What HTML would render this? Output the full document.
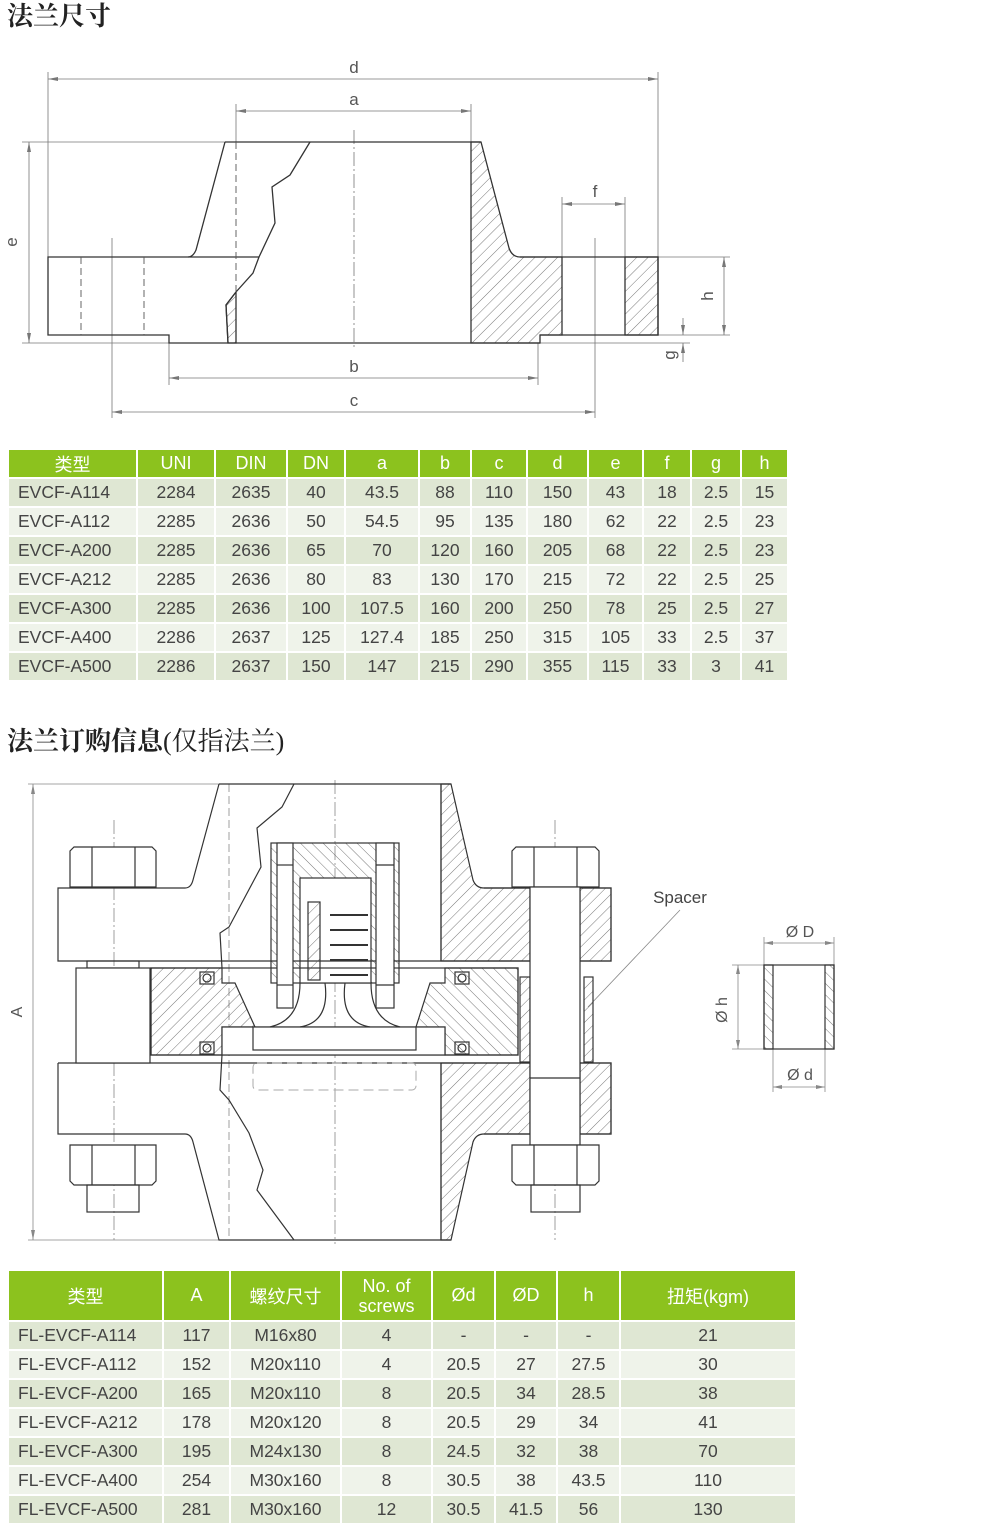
<!DOCTYPE html>
<html><head><meta charset="utf-8">
<style>
body{margin:0;width:1000px;height:1533px;background:#fff;position:relative;overflow:hidden;font-family:"Liberation Sans","Noto Sans CJK SC",sans-serif}
.t{position:absolute;font-family:"Liberation Serif","Noto Serif CJK SC",serif;font-size:26px;color:#222;left:7px;line-height:30px}
table{position:absolute;border-collapse:collapse;table-layout:fixed;left:7px}
td,th{border:2px solid #fff;padding:0;text-align:center;color:#444;font-size:17.5px;font-weight:normal;white-space:nowrap;overflow:hidden}
th{background:#8cc21e;color:#fff;font-size:18px}
tr.a td{background:#dfe7d3}
tr.b td{background:#eff3ea}
td.l{text-align:left;padding-left:9px}
svg{position:absolute;left:0;top:0}
</style></head><body>
<div class="t" style="top:2px;font-weight:bold">法兰尺寸</div>
<div class="t" style="top:727px"><b>法兰订购信息</b>(仅指法兰)</div>

<svg width="1000" height="1533" viewBox="0 0 1000 1533">
<defs>
<pattern id="h" patternUnits="userSpaceOnUse" width="8" height="8" patternTransform="rotate(45)">
<line x1="0" y1="0" x2="0" y2="8" stroke="#555" stroke-width="0.8"/></pattern>
<pattern id="h2" patternUnits="userSpaceOnUse" width="8" height="8" patternTransform="rotate(-45)">
<line x1="0" y1="0" x2="0" y2="8" stroke="#555" stroke-width="0.8"/></pattern>
</defs>
<g fill="none" stroke="#777" stroke-width="0.8">
<!-- drawing 1 dims -->
<line x1="48" y1="72" x2="48" y2="335"/><line x1="658" y1="72" x2="658" y2="257"/>
<line x1="48" y1="79" x2="658" y2="79"/>
<line x1="236" y1="104" x2="236" y2="142"/><line x1="471" y1="104" x2="471" y2="142"/>
<line x1="236" y1="111" x2="471" y2="111"/>
<line x1="22" y1="142" x2="225" y2="142"/><line x1="22" y1="343" x2="228" y2="343"/>
<line x1="29" y1="142" x2="29" y2="343"/>
<line x1="562" y1="197" x2="562" y2="257"/><line x1="625" y1="197" x2="625" y2="257"/>
<line x1="562" y1="204" x2="625" y2="204"/>
<line x1="658" y1="257" x2="730" y2="257"/><line x1="658" y1="335" x2="730" y2="335"/><line x1="540" y1="343" x2="690" y2="343"/>
<line x1="724" y1="257" x2="724" y2="335"/>
<line x1="683" y1="318" x2="683" y2="335"/><line x1="683" y1="343" x2="683" y2="362"/>
<line x1="169" y1="343" x2="169" y2="385"/><line x1="538" y1="343" x2="538" y2="385"/>
<line x1="169" y1="378" x2="538" y2="378"/>
<line x1="112" y1="238" x2="112" y2="418"/><line x1="595" y1="238" x2="595" y2="418"/>
<line x1="112" y1="412" x2="595" y2="412"/>
<line x1="354" y1="130" x2="354" y2="348" stroke-dasharray="14 3 2 3"/>
</g>
<g fill="#777" stroke="none">
<path d="M48,79 l10,-2 v4z M658,79 l-10,-2 v4z M236,111 l10,-2 v4z M471,111 l-10,-2 v4z M29,142 l-2,10 h4z M29,343 l-2,-10 h4z M562,204 l10,-2 v4z M625,204 l-10,-2 v4z M724,257 l-2,10 h4z M724,335 l-2,-10 h4z M683,335 l-2,-10 h4z M683,343 l-2,10 h4z M169,378 l10,-2 v4z M538,378 l-10,-2 v4z M112,412 l10,-2 v4z M595,412 l-10,-2 v4z"/>
</g>
<g font-family="Liberation Sans,sans-serif" font-size="17" fill="#555" text-anchor="middle">
<text x="354" y="73">d</text><text x="354" y="105">a</text><text x="595" y="197">f</text>
<text x="354" y="372">b</text><text x="354" y="406">c</text>
<text x="17" y="242" transform="rotate(-90 17 242)">e</text>
<text x="713" y="296" transform="rotate(-90 713 296)">h</text>
<text x="675" y="355" transform="rotate(-90 675 355)">g</text>
</g>
<g stroke="#333" stroke-width="1.3" fill="none">
<path d="M471,142 L481,142 L509,248 Q512,257 520,257 L562,257 L562,335 L540,335 L540,343 L471,343 Z" fill="url(#h)"/>
<rect x="625" y="257" width="33" height="78" fill="url(#h)"/>
<path d="M226,305 L236,292 L236,343 L228,343 Z" fill="url(#h)"/>
<path d="M225,142 L481,142"/>
<path d="M225,142 L196,250 Q193,257 188,257 L48,257 L48,335 L169,335 L169,343 L540,343"/>
<path d="M188,257 L259,257"/>
<path d="M310,142 L290,175 L272,187 L275,223 L259,257 L253,273 L236,292 L226,305 L228,343"/>
<path d="M520,257 L658,257 L658,335 L540,335"/>
</g>
<g stroke="#555" stroke-width="0.9" stroke-dasharray="7 4" fill="none">
<line x1="236" y1="142" x2="236" y2="292"/><line x1="81" y1="257" x2="81" y2="335"/><line x1="144" y1="257" x2="144" y2="335"/>
</g>

<!-- drawing 2 -->
<g fill="none" stroke="#888" stroke-width="0.8">
<line x1="28" y1="784" x2="220" y2="784"/><line x1="28" y1="1240" x2="220" y2="1240"/>
<line x1="33" y1="784" x2="33" y2="1240"/>
<line x1="335" y1="780" x2="335" y2="1244" stroke-dasharray="14 3 2 3"/>
<line x1="114" y1="820" x2="114" y2="1240" stroke-dasharray="14 3 2 3"/>
<line x1="555" y1="820" x2="555" y2="1240" stroke-dasharray="14 3 2 3"/>
<line x1="229" y1="784" x2="229" y2="1240" stroke-dasharray="8 4"/>
<line x1="588" y1="1007" x2="680" y2="910"/>
<!-- spacer dims -->
<line x1="764" y1="937" x2="764" y2="965"/><line x1="834" y1="937" x2="834" y2="965"/><line x1="764" y1="943" x2="834" y2="943"/>
<line x1="732" y1="965" x2="764" y2="965"/><line x1="732" y1="1049" x2="764" y2="1049"/><line x1="738" y1="965" x2="738" y2="1049"/>
<line x1="773" y1="1049" x2="773" y2="1092"/><line x1="825" y1="1049" x2="825" y2="1092"/><line x1="773" y1="1087" x2="825" y2="1087"/>
</g>
<g fill="#888"><path d="M33,784 l-2,10 h4z M33,1240 l-2,-10 h4z M764,943 l9,-2 v4z M834,943 l-9,-2 v4z M738,965 l-2,9 h4z M738,1049 l-2,-9 h4z M773,1087 l9,-2 v4z M825,1087 l-9,-2 v4z"/></g>
<g font-family="Liberation Sans,sans-serif" font-size="16" fill="#555" text-anchor="middle">
<text x="22" y="1012" transform="rotate(-90 22 1012)">A</text>
<text x="680" y="903" font-size="17" fill="#444">Spacer</text>
<text x="800" y="937">Ø D</text><text x="800" y="1080">Ø d</text>
<text x="727" y="1010" transform="rotate(-90 727 1010)">Ø h</text>
</g>
<g stroke="#333" stroke-width="1.2" fill="none">
<!-- hatched regions -->
<path d="M441,784 L451,784 L473,880 Q476,888 484,888 L530,888 L530,961 L441,961 Z" fill="url(#h)"/>
<rect x="580" y="888" width="31" height="73" fill="url(#h)"/>
<path d="M441,1063 L530,1063 L530,1134 L484,1134 Q476,1134 473,1142 L451,1240 L441,1240 Z" fill="url(#h)"/>
<rect x="580" y="1063" width="31" height="71" fill="url(#h)"/>
<path d="M151,968 L222,968 L222,983 L235,983 L255,1027 L222,1027 L222,1055 L151,1055 Z" fill="url(#h)"/>
<path d="M445,968 L518,968 L518,1055 L445,1055 L445,1027 L416,1027 L430,983 L445,983 Z" fill="url(#h2)"/>
<rect x="271" y="843" width="128" height="140" fill="url(#h2)"/>
<rect x="300" y="878" width="71" height="105" fill="#fff"/>
<rect x="520" y="977" width="10" height="85" fill="url(#h)"/>
<rect x="584" y="977" width="9" height="85" fill="url(#h)"/>
<rect x="764" y="965" width="70" height="84" fill="#fff"/>
<rect x="764" y="965" width="9" height="84" fill="url(#h2)"/>
<rect x="825" y="965" width="9" height="84" fill="url(#h2)"/>
<!-- flanges -->
<path d="M219,784 L451,784"/>
<path d="M219,784 L193,880 Q191,888 185,888 L58,888 L58,961 L611,961 L611,888 L484,888"/>
<path d="M58,1063 L611,1063 L611,1134 L484,1134"/>
<path d="M58,1063 L58,1134 L185,1134 Q191,1134 193,1142 L219,1240 L451,1240"/>
<line x1="441" y1="784" x2="441" y2="961"/><line x1="441" y1="1063" x2="441" y2="1240"/>
<path d="M294,784 L282,807 L257,828 L261,867 L245,897 L229,927 L220,933 L222,968"/>
<path d="M222,1055 L220,1090 L229,1100 L249,1133 L263,1170 L257,1190 L294,1240"/>
<rect x="151" y="968" width="367" height="87"/>
<rect x="222" y="1027" width="223" height="28" fill="#fff"/>
<rect x="253" y="1027" width="163" height="23" fill="#fff"/>
<path d="M300,983 Q300,1020 270,1027 M371,983 Q371,1020 400,1027 M325,983 Q330,1022 300,1027 M345,983 Q340,1022 370,1027"/>
<rect x="277" y="843" width="16" height="165" fill="#fff"/>
<rect x="376" y="843" width="18" height="165" fill="#fff"/>
<line x1="277" y1="865" x2="293" y2="865"/><line x1="376" y1="865" x2="394" y2="865"/>
<line x1="277" y1="985" x2="293" y2="985"/><line x1="376" y1="985" x2="394" y2="985"/>
<rect x="308" y="902" width="12" height="78" fill="url(#h)"/>
<path d="M330,915 H368 M330,930 H368 M330,945 H368 M330,960 H368 M330,975 H368" stroke-width="2"/>
<!-- o-rings -->
<rect x="200" y="972" width="14" height="12"/><circle cx="207" cy="978" r="4"/>
<rect x="200" y="1042" width="14" height="12"/><circle cx="207" cy="1048" r="4"/>
<rect x="455" y="972" width="14" height="12"/><circle cx="462" cy="978" r="4"/>
<rect x="455" y="1042" width="14" height="12"/><circle cx="462" cy="1048" r="4"/>
<!-- left bolt -->
<path d="M74,847 H152 L156,851 V887 H70 V851 Z" fill="#fff"/><line x1="92" y1="847" x2="92" y2="887"/><line x1="135" y1="847" x2="135" y2="887"/>
<rect x="87" y="961" width="52" height="7"/><rect x="76" y="968" width="74" height="95" fill="#fff"/>
<path d="M70,1145 H156 V1181 L152,1185 H74 L70,1181 Z" fill="#fff"/><line x1="92" y1="1145" x2="92" y2="1185"/><line x1="135" y1="1145" x2="135" y2="1185"/>
<rect x="87" y="1185" width="52" height="27"/>
<!-- right bolt -->
<path d="M516,847 H595 L599,851 V887 H512 V851 Z" fill="#fff"/><line x1="534" y1="847" x2="534" y2="887"/><line x1="577" y1="847" x2="577" y2="887"/>
<rect x="530" y="887" width="50" height="258" fill="#fff"/><line x1="530" y1="1078" x2="580" y2="1078"/>
<path d="M512,1145 H599 V1181 L595,1185 H516 L512,1181 Z" fill="#fff"/><line x1="534" y1="1145" x2="534" y2="1185"/><line x1="577" y1="1145" x2="577" y2="1185"/>
<rect x="531" y="1185" width="49" height="27"/>
</g>
<rect x="253" y="1063" width="163" height="27" rx="4" fill="none" stroke="#aaa" stroke-dasharray="10 5"/>
</svg>

<table style="top:448px;width:780px">
<colgroup><col style="width:129px"><col style="width:78px"><col style="width:72px"><col style="width:58px"><col style="width:74px"><col style="width:52px"><col style="width:56px"><col style="width:61px"><col style="width:55px"><col style="width:48px"><col style="width:50px"><col style="width:47px"></colgroup>
<tr style="height:29px"><th>类型</th><th>UNI</th><th>DIN</th><th>DN</th><th>a</th><th>b</th><th>c</th><th>d</th><th>e</th><th>f</th><th>g</th><th>h</th></tr>
<tr class="a" style="height:29px"><td class="l">EVCF-A114</td><td>2284</td><td>2635</td><td>40</td><td>43.5</td><td>88</td><td>110</td><td>150</td><td>43</td><td>18</td><td>2.5</td><td>15</td></tr>
<tr class="b" style="height:29px"><td class="l">EVCF-A112</td><td>2285</td><td>2636</td><td>50</td><td>54.5</td><td>95</td><td>135</td><td>180</td><td>62</td><td>22</td><td>2.5</td><td>23</td></tr>
<tr class="a" style="height:29px"><td class="l">EVCF-A200</td><td>2285</td><td>2636</td><td>65</td><td>70</td><td>120</td><td>160</td><td>205</td><td>68</td><td>22</td><td>2.5</td><td>23</td></tr>
<tr class="b" style="height:29px"><td class="l">EVCF-A212</td><td>2285</td><td>2636</td><td>80</td><td>83</td><td>130</td><td>170</td><td>215</td><td>72</td><td>22</td><td>2.5</td><td>25</td></tr>
<tr class="a" style="height:29px"><td class="l">EVCF-A300</td><td>2285</td><td>2636</td><td>100</td><td>107.5</td><td>160</td><td>200</td><td>250</td><td>78</td><td>25</td><td>2.5</td><td>27</td></tr>
<tr class="b" style="height:29px"><td class="l">EVCF-A400</td><td>2286</td><td>2637</td><td>125</td><td>127.4</td><td>185</td><td>250</td><td>315</td><td>105</td><td>33</td><td>2.5</td><td>37</td></tr>
<tr class="a" style="height:29px"><td class="l">EVCF-A500</td><td>2286</td><td>2637</td><td>150</td><td>147</td><td>215</td><td>290</td><td>355</td><td>115</td><td>33</td><td>3</td><td>41</td></tr>
</table>

<table style="top:1269px;width:788px">
<colgroup><col style="width:155px"><col style="width:67px"><col style="width:111px"><col style="width:91px"><col style="width:63px"><col style="width:62px"><col style="width:63px"><col style="width:176px"></colgroup>
<tr style="height:51px"><th>类型</th><th>A</th><th>螺纹尺寸</th><th style="line-height:20px">No. of<br>screws</th><th>Ød</th><th>ØD</th><th>h</th><th>扭矩(kgm)</th></tr>
<tr class="a" style="height:29px"><td class="l">FL-EVCF-A114</td><td>117</td><td>M16x80</td><td>4</td><td>-</td><td>-</td><td>-</td><td>21</td></tr>
<tr class="b" style="height:29px"><td class="l">FL-EVCF-A112</td><td>152</td><td>M20x110</td><td>4</td><td>20.5</td><td>27</td><td>27.5</td><td>30</td></tr>
<tr class="a" style="height:29px"><td class="l">FL-EVCF-A200</td><td>165</td><td>M20x110</td><td>8</td><td>20.5</td><td>34</td><td>28.5</td><td>38</td></tr>
<tr class="b" style="height:29px"><td class="l">FL-EVCF-A212</td><td>178</td><td>M20x120</td><td>8</td><td>20.5</td><td>29</td><td>34</td><td>41</td></tr>
<tr class="a" style="height:29px"><td class="l">FL-EVCF-A300</td><td>195</td><td>M24x130</td><td>8</td><td>24.5</td><td>32</td><td>38</td><td>70</td></tr>
<tr class="b" style="height:29px"><td class="l">FL-EVCF-A400</td><td>254</td><td>M30x160</td><td>8</td><td>30.5</td><td>38</td><td>43.5</td><td>110</td></tr>
<tr class="a" style="height:29px"><td class="l">FL-EVCF-A500</td><td>281</td><td>M30x160</td><td>12</td><td>30.5</td><td>41.5</td><td>56</td><td>130</td></tr>
</table>
</body></html>
